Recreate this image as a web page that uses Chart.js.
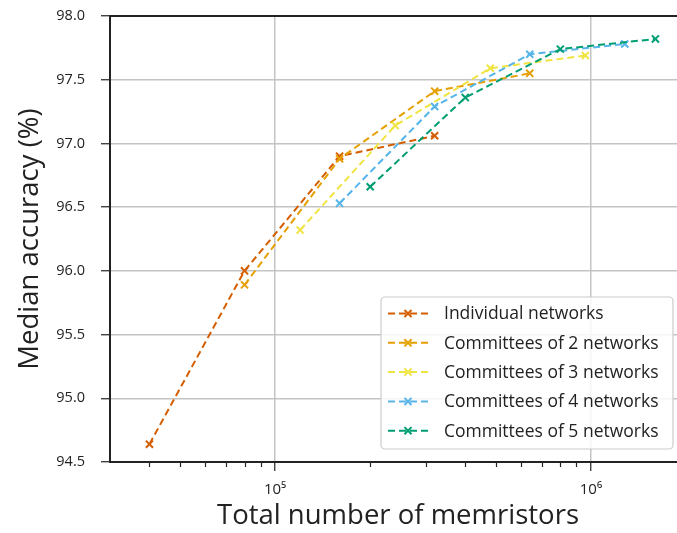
<!DOCTYPE html>
<html>
<head>
<meta charset="utf-8">
<script src="https://cdn.jsdelivr.net/npm/chart.js@4/dist/chart.umd.min.js"></script>
<style>
  html, body { margin: 0; padding: 0; overflow: hidden; background: #fff; }
  #wrap { width: 700px; height: 533px; }
</style>
</head>
<body>
<div id="wrap"><canvas id="memChart" width="700" height="533"></canvas></div>
<script>
// series labels and colours
const seriesLabels = [
  'Individual networks',
  'Committees of 2 networks',
  'Committees of 3 networks',
  'Committees of 4 networks',
  'Committees of 5 networks'
];
const seriesColors = ['#d55e00', '#e69f00', '#f0e442', '#56b4e9', '#009e73'];

// x = total number of memristors, y = median accuracy (%)
const xIndividual = [40000, 80000, 160000, 320000];
const yIndividual = [94.64, 96.00, 96.90, 97.06];
const xComm2 = [80000, 160000, 320000, 640000];
const yComm2 = [95.89, 96.88, 97.41, 97.55];
const xComm3 = [120000, 240000, 480000, 960000];
const yComm3 = [96.32, 97.14, 97.59, 97.69];
const xComm4 = [160000, 320000, 640000, 1280000];
const yComm4 = [96.53, 97.29, 97.70, 97.78];
const xComm5 = [200000, 400000, 800000, 1600000];
const yComm5 = [96.66, 97.36, 97.74, 97.82];

const xSeries = [xIndividual, xComm2, xComm3, xComm4, xComm5];
const ySeries = [yIndividual, yComm2, yComm3, yComm4, yComm5];

// tick positions for the log axis
const xMajorTicks = [100000, 1000000];
const xMinorTicks = [40000, 50000, 60000, 70000, 80000, 90000,
  200000, 300000, 400000, 500000, 600000, 700000, 800000, 900000];
const xTickLabels = { 100000: '10\u2075', 1000000: '10\u2076' };

const FONT = "'Open Sans', 'DejaVu Sans', sans-serif";
const DASH = [7, 4];

const datasets = seriesLabels.map((label, i) => ({
  label: label,
  data: xSeries[i].map((x, j) => ({ x: x, y: ySeries[i][j] })),
  borderColor: seriesColors[i],
  backgroundColor: seriesColors[i],
  borderWidth: 2,
  borderDash: DASH,
  pointStyle: 'crossRot',
  pointRadius: 5,
  pointBorderWidth: 2,
  pointBorderColor: seriesColors[i],
  fill: false,
  tension: 0,
  order: seriesLabels.length - i
}));

// top spine, minor x ticks and the legend box
const extrasPlugin = {
  id: 'extras',
  afterDraw(chart) {
    const ctx = chart.ctx;
    const area = chart.chartArea;
    const xs = chart.scales.x;
    ctx.save();
    ctx.strokeStyle = '#222';
    ctx.lineWidth = 2;
    ctx.beginPath();
    ctx.moveTo(area.left - 1, area.top);
    ctx.lineTo(area.right, area.top);
    ctx.stroke();

    ctx.lineWidth = 1.2;
    xMinorTicks.forEach(v => {
      const px = Math.round(xs.getPixelForValue(v)) + 0.5;
      ctx.beginPath();
      ctx.moveTo(px, area.bottom);
      ctx.lineTo(px, area.bottom + 5);
      ctx.stroke();
    });

    // legend
    const bx = 381, by = 297, bw = 292, bh = 152;
    ctx.beginPath();
    ctx.roundRect(bx, by, bw, bh, 4);
    ctx.fillStyle = 'rgba(255,255,255,0.85)';
    ctx.fill();
    ctx.strokeStyle = '#cccccc';
    ctx.lineWidth = 1.2;
    ctx.stroke();

    chart.data.datasets.forEach((ds, i) => {
      const cy = 313.5 + i * 29.3;
      ctx.strokeStyle = ds.borderColor;
      ctx.lineWidth = 2;
      ctx.setLineDash(DASH);
      ctx.beginPath();
      ctx.moveTo(388, cy);
      ctx.lineTo(430, cy);
      ctx.stroke();
      ctx.setLineDash([]);
      const r = 5 * Math.SQRT1_2;
      ctx.beginPath();
      ctx.moveTo(408 - r, cy - r); ctx.lineTo(408 + r, cy + r);
      ctx.moveTo(408 - r, cy + r); ctx.lineTo(408 + r, cy - r);
      ctx.stroke();
      ctx.fillStyle = '#222';
      ctx.font = '17.5px ' + FONT;
      ctx.textBaseline = 'middle';
      ctx.textAlign = 'left';
      ctx.fillText(ds.label, 444, cy + 1);
    });
    ctx.restore();
  }
};

new Chart(document.getElementById('memChart'), {
  type: 'line',
  data: { datasets: datasets },
  plugins: [extrasPlugin],
  options: {
    responsive: false,
    animation: false,
    layout: { padding: { top: 16, right: 14, left: 0, bottom: 0 } },
    plugins: {
      legend: { display: false },
      tooltip: { enabled: false }
    },
    scales: {
      x: {
        type: 'logarithmic',
        min: 30000,
        max: 2000000,
        afterBuildTicks(scale) {
          scale.ticks = xMajorTicks.map(v => ({ value: v, major: true }));
        },
        afterFit(scale) { scale.height = 71; scale.paddingLeft = 0; scale.paddingRight = 0; },
        border: { display: true, color: '#222', width: 2 },
        grid: {
          color: '#c4c4c4',
          lineWidth: 1.5,
          tickLength: 9,
          tickColor: '#222',
          tickWidth: 1.2
        },
        ticks: {
          autoSkip: false,
          maxRotation: 0,
          padding: 10,
          color: '#222',
          font: { family: FONT, size: 15 },
          callback: v => xTickLabels[v] || ''
        },
        title: {
          display: true,
          text: 'Total number of memristors',
          color: '#222',
          font: { family: FONT, size: 27.5 },
          padding: { top: 0, bottom: 0 }
        }
      },
      y: {
        type: 'linear',
        min: 94.5,
        max: 98.0,
        afterFit(scale) { scale.width = 110; scale.paddingTop = 0; scale.paddingBottom = 0; },
        border: { display: true, color: '#222', width: 2 },
        grid: {
          color: ctx => (ctx.tick && (ctx.tick.value === 94.5 || ctx.tick.value === 98)) ? 'rgba(0,0,0,0)' : '#c4c4c4',
          lineWidth: 1.5,
          tickLength: 9,
          tickColor: '#222',
          tickWidth: 1.2
        },
        ticks: {
          stepSize: 0.5,
          padding: 16,
          color: '#222',
          font: { family: FONT, size: 14.5 },
          callback: v => v.toFixed(1)
        },
        title: {
          display: true,
          text: 'Median accuracy (%)',
          color: '#222',
          font: { family: FONT, size: 27.5 },
          padding: { top: 14, bottom: 2 }
        }
      }
    }
  }
});
</script>
</body>
</html>
